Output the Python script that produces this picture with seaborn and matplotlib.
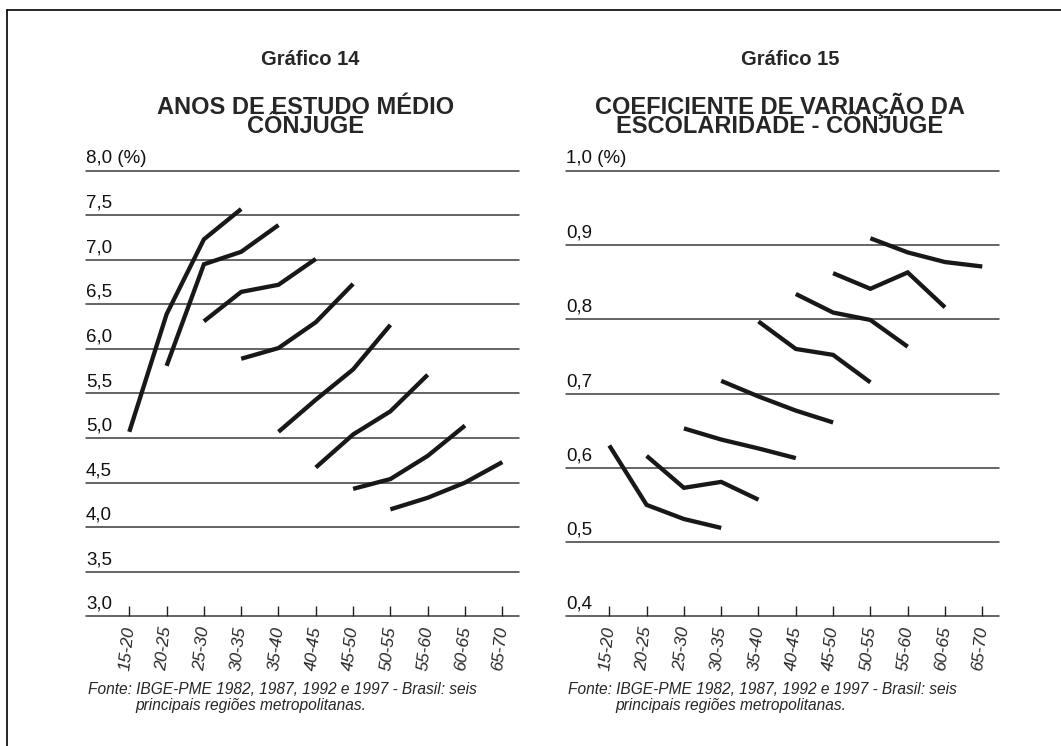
import matplotlib
matplotlib.use("Agg")
import matplotlib.pyplot as plt
from matplotlib.lines import Line2D
import matplotlib.transforms as mtransforms
import seaborn as sns
import pandas as pd

# ---------------- data ----------------
age_groups = ["15-20", "20-25", "25-30", "30-35", "35-40", "40-45",
              "45-50", "50-55", "55-60", "60-65", "65-70"]

# Gráfico 14: anos de estudo médio (cônjuge), one cohort per line, 4 points each
estudo_c1 = [5.07, 6.39, 7.23, 7.57]
estudo_c2 = [5.81, 6.95, 7.09, 7.39]
estudo_c3 = [6.31, 6.64, 6.72, 7.01]
estudo_c4 = [5.89, 6.01, 6.30, 6.73]
estudo_c5 = [5.07, 5.43, 5.77, 6.27]
estudo_c6 = [4.67, 5.04, 5.30, 5.71]
estudo_c7 = [4.43, 4.54, 4.80, 5.14]
estudo_c8 = [4.20, 4.33, 4.50, 4.73]

# Gráfico 15: coeficiente de variação da escolaridade (cônjuge)
cv_c1 = [0.630, 0.550, 0.531, 0.519]
cv_c2 = [0.616, 0.573, 0.581, 0.557]
cv_c3 = [0.653, 0.638, 0.626, 0.613]
cv_c4 = [0.717, 0.696, 0.677, 0.661]
cv_c5 = [0.797, 0.760, 0.752, 0.715]
cv_c6 = [0.834, 0.809, 0.799, 0.763]
cv_c7 = [0.862, 0.841, 0.863, 0.816]
cv_c8 = [0.909, 0.890, 0.877, 0.871]

# cohort start positions (index into age_groups)
cohort_start = [0, 1, 2, 3, 4, 5, 6, 7]

estudo_ticks = [3.0, 3.5, 4.0, 4.5, 5.0, 5.5, 6.0, 6.5, 7.0, 7.5, 8.0]
estudo_labels = ["3,0", "3,5", "4,0", "4,5", "5,0", "5,5", "6,0", "6,5", "7,0", "7,5", "8,0 (%)"]
cv_ticks = [0.4, 0.5, 0.6, 0.7, 0.8, 0.9, 1.0]
cv_labels = ["0,4", "0,5", "0,6", "0,7", "0,8", "0,9", "1,0 (%)"]

title14 = "ANOS DE ESTUDO MÉDIO\nCÔNJUGE"
title15 = "COEFICIENTE DE VARIAÇÃO DA\nESCOLARIDADE - CÔNJUGE"
fonte_l1 = "Fonte: IBGE-PME 1982, 1987, 1992 e 1997 - Brasil: seis"
fonte_l2 = "principais regiões metropolitanas."


def long_frame(cohorts):
    rows = []
    for k, (start, vals) in enumerate(zip(cohort_start, cohorts)):
        for j, v in enumerate(vals):
            rows.append({"pos": start + j, "val": v, "cohort": k})
    return pd.DataFrame(rows)


df_estudo = long_frame([estudo_c1, estudo_c2, estudo_c3, estudo_c4,
                        estudo_c5, estudo_c6, estudo_c7, estudo_c8])
df_cv = long_frame([cv_c1, cv_c2, cv_c3, cv_c4, cv_c5, cv_c6, cv_c7, cv_c8])

# ---------------- style ----------------
sns.set_theme(style="white")
plt.rcParams["font.family"] = ["Liberation Sans", "DejaVu Sans"]

W, H = 1061, 746
fig = plt.figure(figsize=(W / 100, H / 100), dpi=100)
fig.patch.set_facecolor("white")


def px_axes(x0, x1, ytop, ybot):
    return [x0 / W, 1 - ybot / H, (x1 - x0) / W, (ybot - ytop) / H]


ax1 = fig.add_axes(px_axes(86, 519, 170.7, 616.3))
ax2 = fig.add_axes(px_axes(566, 999, 170.7, 616.3))


def style_axis(ax, df, ticks, labels):
    sns.lineplot(data=df, x="pos", y="val", units="cohort", estimator=None,
                 color="#1a1817", linewidth=3.1, ax=ax, legend=False,
                 solid_capstyle="butt", solid_joinstyle="miter", clip_on=False)
    ax.set_ylim(ticks[0], ticks[-1])
    ax.set_xlim(-1.161, 10.448)
    for sp in ax.spines.values():
        sp.set_visible(False)
    for t in ticks:
        ax.axhline(t, color="#3a3a3a", lw=1.1, zorder=0, clip_on=False)
    ax.set_yticks([])
    ax.set_xticks(range(len(age_groups)))
    ax.set_xticklabels(age_groups, rotation=84, ha="right", va="center",
                       rotation_mode="anchor", fontstyle="italic", fontsize=12.5)
    ax.tick_params(axis="x", direction="in", length=7, width=1.0,
                   color="#222222", pad=7, bottom=True)
    ax.set_xlabel("")
    ax.set_ylabel("")
    trans = mtransforms.blended_transform_factory(ax.transAxes, ax.transData)
    for t, lab in zip(ticks, labels):
        ax.annotate(lab, xy=(0, t), xycoords=trans, xytext=(0, 2.5),
                    textcoords="offset points", ha="left", va="bottom",
                    fontsize=13.5, color="#111111")


style_axis(ax1, df_estudo, estudo_ticks, estudo_labels)
style_axis(ax2, df_cv, cv_ticks, cv_labels)

# ---------------- titles ----------------
def ftext(x, y, s, **kw):
    fig.text(x / W, 1 - y / H, s, **kw)


ftext(310, 65, "Gráfico 14", ha="center", va="baseline", fontsize=14.5, fontweight="bold")
ftext(306, 133, title14, ha="center", va="baseline", multialignment="center",
      fontsize=17, fontweight="bold", linespacing=0.76)

ftext(790, 65, "Gráfico 15", ha="center", va="baseline", fontsize=14.5, fontweight="bold")
ftext(780, 133, title15, ha="center", va="baseline", multialignment="center",
      fontsize=17, fontweight="bold", linespacing=0.76)

# ---------------- footnotes ----------------
for x0 in (88, 568):
    ftext(x0, 694, fonte_l1, ha="left", va="baseline", fontsize=11.2, fontstyle="italic")
    ftext(x0 + 47, 710, fonte_l2, ha="left", va="baseline", fontsize=11.2, fontstyle="italic")

# ---------------- frame (top and left) ----------------
fig.add_artist(Line2D([7 / W, 7 / W], [0, 1 - 10 / H], color="black", lw=1.2,
                      transform=fig.transFigure))
fig.add_artist(Line2D([7 / W, 1], [1 - 10 / H, 1 - 10 / H], color="black", lw=1.2,
                      transform=fig.transFigure))

fig.savefig("out.png", dpi=100, facecolor="white")
